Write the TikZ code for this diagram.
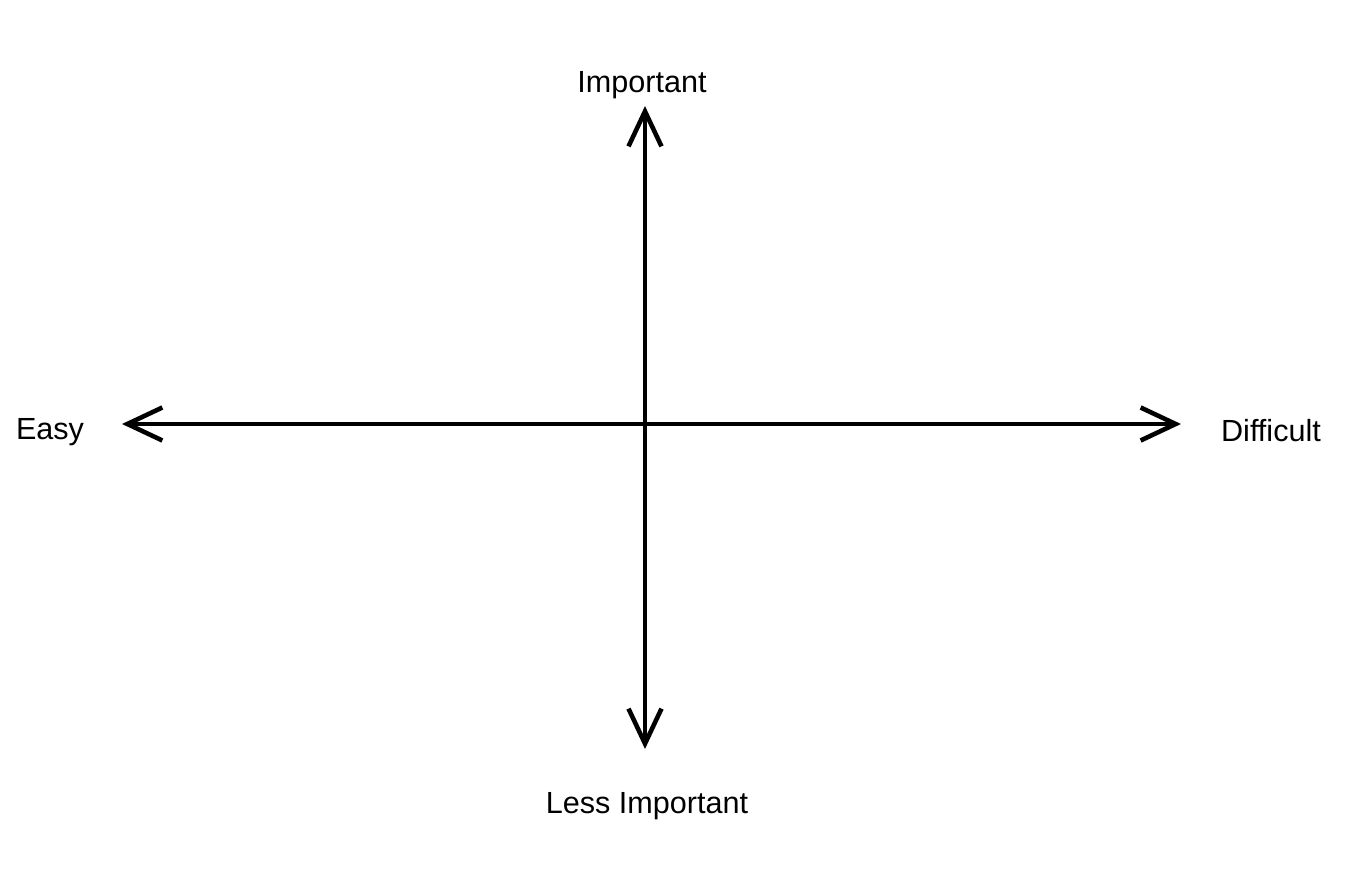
\documentclass[tikz,border=0pt]{standalone}
\usepackage{fontspec}
\setsansfont{Liberation Sans}
\usetikzlibrary{arrows.meta}

\begin{document}
\begin{tikzpicture}[
  every node/.style={font=\sffamily\fontsize{8.7}{10}\selectfont, inner sep=0pt},
  axis/.style={line width=1.3pt, {Straight Barb[length=3.5mm, width=3.3mm, line width=1.3pt]}-{Straight Barb[length=3.5mm, width=3.3mm, line width=1.3pt]}},
  axislabel/.style={anchor=base, text=black},
]

% Page
\useasboundingbox (0, 0) rectangle (13.56, 8.71);

% Axis ends
\coordinate (top)    at (6.45, 7.65);
\coordinate (bottom) at (6.45, 1.22);
\coordinate (left)   at (1.22, 4.47);
\coordinate (right)  at (11.81, 4.47);

% Labels
\node[axislabel] (imp)  at (6.42, 7.79) {Important};
\node[axislabel] (less) at (6.47, 0.58) {Less Important};
\node[axislabel] (easy) at (0.50, 4.31) {Easy};
\node[axislabel] (diff) at (12.71, 4.29) {Difficult};

% Axes
\draw[axis] (bottom) -- (top);
\draw[axis] (left) -- (right);

\end{tikzpicture}
\end{document}
